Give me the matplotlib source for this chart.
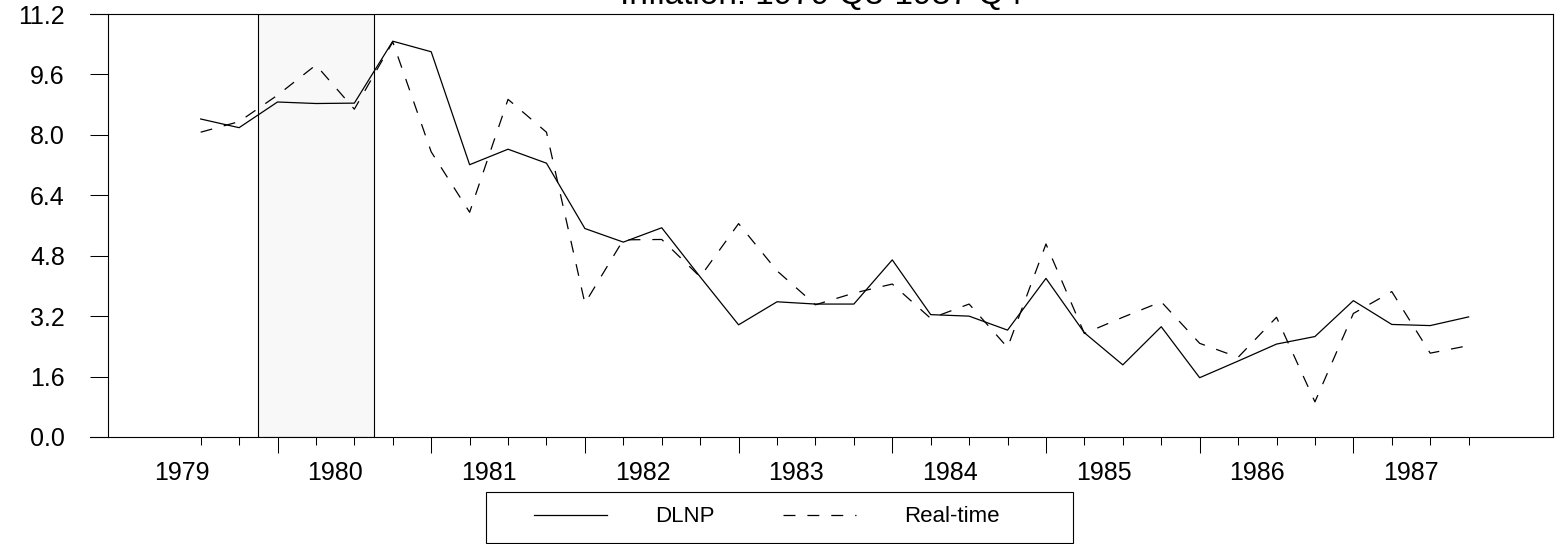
import matplotlib
matplotlib.use("Agg")
import matplotlib.pyplot as plt
from matplotlib.patches import Rectangle

plt.rcParams['font.family'] = ['Liberation Sans', 'DejaVu Sans']
plt.rcParams['lines.scale_dashes'] = False

# ---- data ----
quarters = [f"{y}Q{q}" for y in range(1979, 1988) for q in range(1, 5)][2:]  # 1979Q3 .. 1987Q4
dlnp = [8.42, 8.19, 8.87, 8.83, 8.84, 10.48, 10.20, 7.21, 7.62, 7.25,
        5.52, 5.16, 5.54, 4.24, 2.97, 3.58, 3.52, 3.52, 4.69, 3.24,
        3.20, 2.83, 4.20, 2.76, 1.91, 2.92, 1.57, 2.01, 2.46, 2.66,
        3.61, 2.98, 2.95, 3.18]
realtime = [8.07, 8.35, 9.05, 9.85, 8.68, 10.46, 7.55, 5.95, 8.94, 8.07,
            3.54, 5.22, 5.23, 4.24, 5.65, 4.40, 3.50, 3.81, 4.05, 3.14,
            3.52, 2.37, 5.11, 2.74, 3.17, 3.58, 2.48, 2.11, 3.17, 0.93,
            3.27, 3.85, 2.22, 2.42]
year_labels = ['1979', '1980', '1981', '1982', '1983', '1984', '1985', '1986', '1987']
y_ticks = [0.0, 1.6, 3.2, 4.8, 6.4, 8.0, 9.6, 11.2]
recession = ("1980Q1", "1980Q3")
title = "Inflation: 1979 Q3-1987 Q4"


def qpos(s):
    return int(s[:4]) + (int(s[-1]) - 1) / 4


W, H = 1557, 544
fig = plt.figure(figsize=(W / 100, H / 100), dpi=100)
ax = fig.add_axes([90 / W, 1 - 437 / H, (1553 - 90) / W, (437 - 14) / H])

x = [qpos(q) for q in quarters]

ax.axvspan(qpos(recession[0]) - 0.125, qpos(recession[1]) + 0.125,
           facecolor='#f8f8f8', edgecolor='black', lw=0.8, zorder=0)

l1, = ax.plot(x, dlnp, color='black', lw=0.9, label='DLNP')
l2, = ax.plot(x, realtime, color='black', lw=0.9, dashes=(8.6, 8.6), label='Real-time')

ax.set_xlim(1978.780, 1988.299)
ax.set_ylim(0, 11.2)

for s in ax.spines.values():
    s.set_linewidth(0.8)
ax.spines['left'].set_position(('axes', 18 / 1463))

ax.set_yticks(y_ticks)
ax.set_yticklabels([f"{v:.1f}" for v in y_ticks])
ax.tick_params(axis='y', direction='out', length=13, width=0.75, pad=18, labelsize=18)

years = [int(y) for y in year_labels]
ax.set_xticks([y for y in years if y >= 1980])
ax.set_xticks([p for p in x if p != int(p)], minor=True)
ax.tick_params(axis='x', which='major', direction='out', length=11.5, width=0.75, labelbottom=False)
ax.tick_params(axis='x', which='minor', direction='out', length=5.8, width=0.75, labelbottom=False)

for lab in year_labels:
    ax.text(int(lab) + 0.375, -(472.7 - 437) / 423, lab, transform=ax.get_xaxis_transform(),
            ha='center', va='center', fontsize=18)

fig.text(821 / W, 1 - 4 / H, title, ha='center', va='baseline', fontsize=24)

fig.legend([l1, l2], ['DLNP', 'Real-time'], loc='center left',
           bbox_to_anchor=(534 / W, 1 - 517 / H), ncol=2, frameon=False, fontsize=16,
           handlelength=3.29, handletextpad=2.16, columnspacing=3.06,
           borderpad=0, borderaxespad=0)
fig.patches.append(Rectangle((486 / W, 1 - 543 / H), (1073 - 486) / W, (543 - 492) / H,
                             transform=fig.transFigure, fill=False, edgecolor='black', lw=0.8))

fig.savefig("out.png", dpi=100)
